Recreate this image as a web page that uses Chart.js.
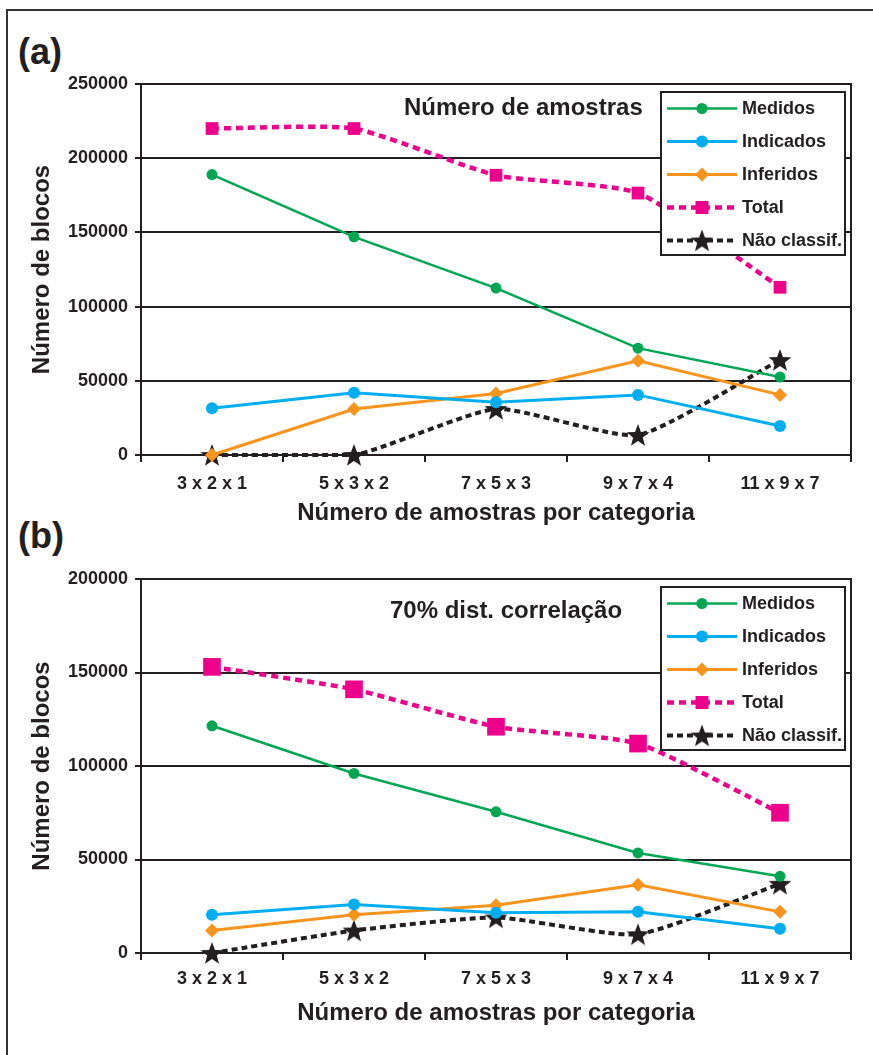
<!DOCTYPE html>
<html>
<head>
<meta charset="utf-8">
<script src="https://cdn.jsdelivr.net/npm/chart.js@4.4.1/dist/chart.umd.min.js"></script>
<style>
  body { margin: 0; background: #fff; width: 873px; height: 1055px; position: relative; overflow: hidden;
         font-family: "Liberation Sans", Arial, sans-serif; color: #231f20; }
  .frame-top { position: absolute; left: 6px; top: 9px; width: 867px; height: 2px; background: #333; }
  .frame-left { position: absolute; left: 6px; top: 9px; width: 2px; height: 1046px; background: #333; }
  .panel { position: absolute; left: 18px; font-weight: bold; font-size: 36px; line-height: 36px; }
  .box { position: absolute; left: 0; width: 873px; height: 480px; }
</style>
</head>
<body>
<div class="frame-top"></div>
<div class="frame-left"></div>
<div class="panel" style="top:34px">(a)</div>
<div class="panel" style="top:518px">(b)</div>
<div class="box" style="top:60px"><canvas id="chartA" width="873" height="480"></canvas></div>
<div class="box" style="top:555px"><canvas id="chartB" width="873" height="480"></canvas></div>

<script>
const categories = ["3 x 2 x 1", "5 x 3 x 2", "7 x 5 x 3", "9 x 7 x 4", "11 x 9 x 7"];
const seriesNames = ["Medidos", "Indicados", "Inferidos", "Total", "Não classif."];

// (a) Número de amostras
const medidosA = [189000, 147000, 112500, 72000, 52500];
const indicadosA = [31500, 42000, 35500, 40500, 19500];
const inferidosA = [0, 31000, 41500, 63500, 40500];
const totalA = [220000, 220000, 188500, 176500, 113000];
const naoClassA = [0, 0, 31000, 13500, 64000];

// (b) 70% dist. correlação
const medidosB = [121500, 96000, 75500, 53500, 41000];
const indicadosB = [20500, 26000, 21500, 22000, 13000];
const inferidosB = [12000, 20500, 25500, 36500, 22000];
const totalB = [153000, 141000, 121000, 112000, 75000];
const naoClassB = [0, 12000, 19000, 10000, 37000];

const yMaxA = 250000;
const yMaxB = 200000;
const yStep = 50000;

const INK = "#231f20";
const FONT = "'Liberation Sans', Arial, sans-serif";

Chart.defaults.font.family = FONT;
Chart.defaults.font.weight = "bold";
Chart.defaults.color = INK;

function makeStar(size) {
  const c = document.createElement("canvas");
  c.width = size; c.height = size;
  const g = c.getContext("2d");
  const R = size / 2, r = R * 0.42, cx = size / 2, cy = size / 2 + 1;
  g.fillStyle = INK;
  g.beginPath();
  for (let i = 0; i < 10; i++) {
    const rad = i % 2 ? r : R;
    const ang = -Math.PI / 2 + i * Math.PI / 5;
    g.lineTo(cx + rad * Math.cos(ang), cy + rad * Math.sin(ang));
  }
  g.closePath();
  g.fill();
  return c;
}
const star = makeStar(24);

function drawMarker(ctx, style, r, x, y, color) {
  ctx.fillStyle = color;
  ctx.beginPath();
  if (style === "circle") ctx.arc(x, y, r, 0, Math.PI * 2);
  else if (style === "rectRot") { ctx.moveTo(x - r, y); ctx.lineTo(x, y - r); ctx.lineTo(x + r, y); ctx.lineTo(x, y + r); ctx.closePath(); }
  else if (style === "rect") ctx.rect(x - r, y - r, 2 * r, 2 * r);
  else { ctx.drawImage(style, x - style.width / 2, y - style.height / 2); return; }
  ctx.fill();
}

// right border, inner title and the legend box inside the plot
const insideBits = {
  id: "insideBits",
  afterDatasetsDraw(chart, args, opts) {
    const { ctx, chartArea: a } = chart;
    ctx.save();
    ctx.strokeStyle = INK;
    ctx.lineWidth = 2;
    ctx.beginPath(); ctx.moveTo(a.right, a.top - 1); ctx.lineTo(a.right, a.bottom); ctx.stroke();

    ctx.fillStyle = INK;
    ctx.font = "bold 24px " + FONT;
    ctx.textAlign = "left";
    ctx.textBaseline = "middle";
    ctx.fillText(opts.text, a.left + opts.textX, a.top + opts.textY);

    const bw = 184, bh = 163;
    const bx = a.right - 6 - bw, by = a.top + 8;
    ctx.fillStyle = "#fff";
    ctx.fillRect(bx, by, bw, bh);
    ctx.strokeStyle = INK;
    ctx.lineWidth = 2;
    ctx.strokeRect(bx, by, bw, bh);

    chart.data.datasets.forEach((ds, i) => {
      const y = by + 16.5 + i * 33;
      ctx.setLineDash(ds.borderDash || []);
      ctx.strokeStyle = ds.borderColor;
      ctx.lineWidth = ds.borderWidth;
      ctx.beginPath(); ctx.moveTo(bx + 6, y); ctx.lineTo(bx + 76, y); ctx.stroke();
      ctx.setLineDash([]);
      drawMarker(ctx, ds.pointStyle, ds.legendSize, bx + 41, y, ds.pointBackgroundColor);
      ctx.fillStyle = INK;
      ctx.font = "bold 18px " + FONT;
      ctx.fillText(ds.label, bx + 81, y + 1);
    });
    ctx.restore();
  }
};

function series(label, data, color, style, radius, legendSize, width, dash) {
  return {
    label, data,
    borderColor: color,
    backgroundColor: color,
    pointBackgroundColor: style === star ? INK : color,
    pointBorderWidth: 0,
    pointStyle: style,
    pointRadius: radius,
    pointHoverRadius: radius,
    borderWidth: width,
    borderDash: dash || [],
    tension: dash ? 0.18 : 0,
    legendSize,
    clip: false,
  };
}

function buildChart(id, sets, yMax, g) {
  const [med, ind, inf, tot, nao] = sets;
  new Chart(document.getElementById(id), {
    type: "line",
    data: {
      labels: categories,
      datasets: [
        series(seriesNames[0], med, "#00a651", "circle", 5.5, 5.5, 2.5),
        series(seriesNames[1], ind, "#00aeef", "circle", 6, 6, 3),
        series(seriesNames[2], inf, "#f7941d", "rectRot", 7, 7, 3),
        series(seriesNames[3], tot, "#ec008c", "rect", g.square, 6.5, 4.5, [7, 5]),
        series(seriesNames[4], nao, INK, star, 10, 10, 4, [6, 4]),
      ],
    },
    options: {
      responsive: false,
      animation: false,
      events: [],
      layout: { padding: { top: 24, right: 22, left: 0, bottom: 0 } },
      plugins: {
        legend: { display: false },
        tooltip: { enabled: false },
        insideBits: { text: g.text, textX: g.textX, textY: g.textY },
      },
      scales: {
        x: {
          offset: true,
          grid: { offset: true, drawOnChartArea: false, drawTicks: true, tickLength: 7, color: INK, lineWidth: 2 },
          border: { display: true, color: INK, width: 2 },
          ticks: { font: { size: 18, weight: "bold" }, padding: g.tickPad, color: INK },
          title: { display: true, text: "Número de amostras por categoria", font: { size: 24, weight: "bold" },
                   color: INK, padding: { top: 0, bottom: g.titlePad } },
          afterFit(s) { s.height = g.xHeight; },
        },
        y: {
          min: 0, max: yMax,
          ticks: { stepSize: yStep, font: { size: 18, weight: "bold" }, padding: 7, color: INK,
                   callback: (v) => String(v) },
          grid: { color: INK, lineWidth: 2, tickLength: 6, drawTicks: true },
          border: { display: true, color: INK, width: 2 },
          title: { display: true, text: "Número de blocos", font: { size: 24, weight: "bold" },
                   color: INK, padding: { top: 28, bottom: 0 } },
          afterFit(s) { s.width = 141; },
        },
      },
    },
    plugins: [insideBits],
  });
}

buildChart("chartA", [medidosA, indicadosA, inferidosA, totalA, naoClassA], yMaxA,
  { text: "Número de amostras", textX: 263, textY: 24, square: 9, tickPad: 11, titlePad: 12, xHeight: 85 });
buildChart("chartB", [medidosB, indicadosB, inferidosB, totalB, naoClassB], yMaxB,
  { text: "70% dist. correlação", textX: 249, textY: 32, square: 12.5, tickPad: 8, titlePad: 7, xHeight: 82 });
</script>
</body>
</html>
